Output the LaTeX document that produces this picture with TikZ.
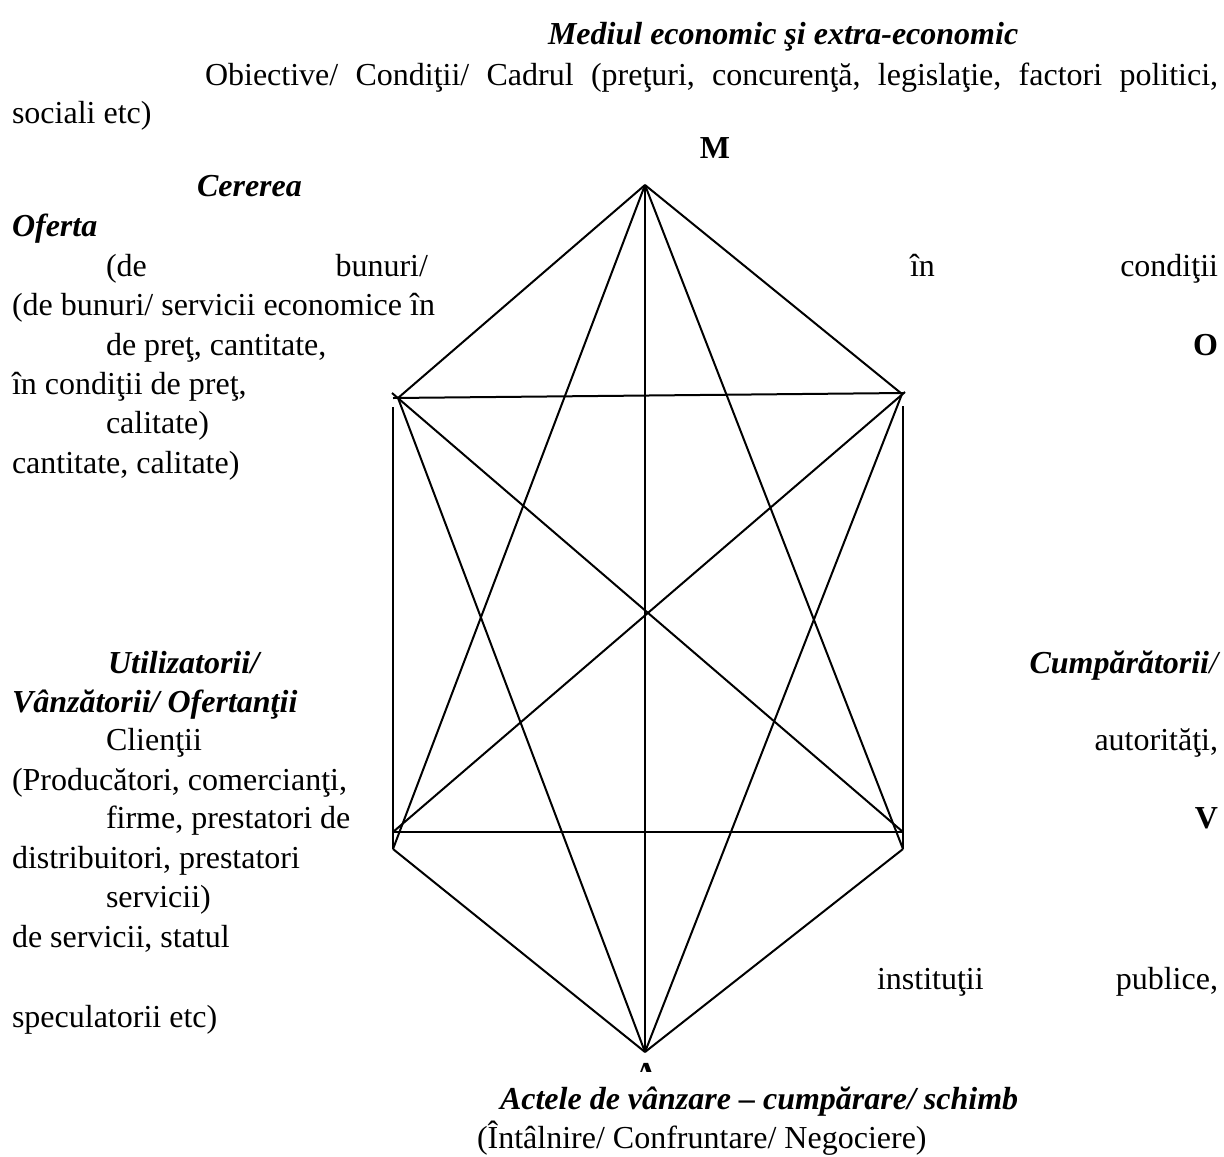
\documentclass[tikz,border=0pt]{standalone}
\usepackage{fontspec}
\setmainfont{Liberation Serif}
\newcommand{\myfs}{\fontsize{16}{19}\selectfont}
\begin{document}
\begin{tikzpicture}[x=0.5pt,y=-0.5pt,
  every node/.style={inner sep=0pt, outer sep=0pt},
  t/.style={anchor=base west, font=\myfs},
  tr/.style={anchor=base east, font=\myfs},
  tbi/.style={anchor=base west, font=\myfs\bfseries\itshape},
  tb/.style={anchor=base, font=\myfs\bfseries},
  ln/.style={line width=1pt, line join=miter}]
\useasboundingbox (0,0) rectangle (1224,1156);
% texts
\node[tbi] (mediul) at (548,45) {Mediul economic şi extra-economic};
\node[t] (obiective) at (205,85) {\hbox to 506.5pt{Obiective/\hfill Condiţii/\hfill Cadrul\hfill (preţuri,\hfill concurenţă,\hfill legislaţie,\hfill factori\hfill politici,}};
\node[t] (sociali) at (12,124) {sociali etc)};
\node[tb] (M) at (715,158) {M};
\node[tbi] (cererea) at (197,196) {Cererea};
\node[tbi] (oferta) at (12,236) {Oferta};
\node[t] (de1) at (106,276) {(de};
\node[tr] (bunuri1) at (428,276) {bunuri/};
\node[t] (in1) at (910,276) {în};
\node[tr] (conditii1) at (1218,276) {condiţii};
\node[t] (debunuri) at (12,315) {(de bunuri/ servicii economice în};
\node[t] (depret) at (106,355) {de preţ, cantitate,};
\node[tb, anchor=base east] (O) at (1218,355) {O};
\node[t] (incond) at (12,394) {în condiţii de preţ,};
\node[t] (calitate1) at (106,433) {calitate)};
\node[t] (cantcal) at (12,473) {cantitate, calitate)};
\node[tbi] (util) at (108,673) {Utilizatorii/};
\node[tr, font=\myfs\bfseries\itshape] (cump) at (1218,673) {Cumpărătorii\textmd{/}};
\node[tbi] (vanz) at (12,712) {Vânzătorii/ Ofertanţii};
\node[t] (clientii) at (106,750) {Clienţii};
\node[tr] (autoritati) at (1218,750) {autorităţi,};
\node[t] (producatori) at (12,790) {(Producători, comercianţi,};
\node[t] (firme) at (106,828) {firme, prestatori de};
\node[tb, anchor=base east] (V) at (1218,828) {V};
\node[t] (distrib) at (12,868) {distribuitori, prestatori};
\node[t] (servicii1) at (106,907) {servicii)};
\node[t] (deserv) at (12,947) {de servicii, statul};
\node[t] (institutii) at (877,989) {instituţii};
\node[tr] (publice) at (1218,989) {publice,};
\node[t] (specul) at (12,1027) {speculatorii etc)};
\node[tbi] (actele) at (500,1109) {Actele de vânzare – cumpărare/ schimb};
\node[t] (intalnire) at (477,1148) {(Întâlnire/ Confruntare/ Negociere)};
\begin{scope}
  \clip (620,1058) rectangle (672,1071);
  \node[tb] (Alabel) at (646,1084) {A};
\end{scope}
% geometry
\coordinate (A) at (645,185);
\coordinate (TL) at (398,398);
\coordinate (TR) at (902,394);
\coordinate (TL0) at (393,398);
\coordinate (TR0) at (904,393);
\coordinate (TLx) at (392,393);
\coordinate (TRx) at (905,392);
\coordinate (LVt) at (393,407);
\coordinate (RVt) at (903,406);
\coordinate (LB) at (393,849);
\coordinate (RB) at (903,849);
\coordinate (BL) at (393,832);
\coordinate (BR) at (903,832);
\coordinate (B) at (645,1052);
\draw[ln] (A) -- (TL);
\draw[ln] (A) -- (TR);
\draw[ln] (A) -- (B);
\draw[ln] (A) -- (LB);
\draw[ln] (A) -- (RB);
\draw[ln] (TL0) -- (TR0);
\draw[ln] (LVt) -- (LB);
\draw[ln] (RVt) -- (RB);
\draw[ln] (BL) -- (BR);
\draw[ln] (TLx) -- (BR);
\draw[ln] (TRx) -- (BL);
\draw[ln] (TL) -- (B);
\draw[ln] (TR) -- (B);
\draw[ln] (LB) -- (B);
\draw[ln] (RB) -- (B);
\end{tikzpicture}
\end{document}
